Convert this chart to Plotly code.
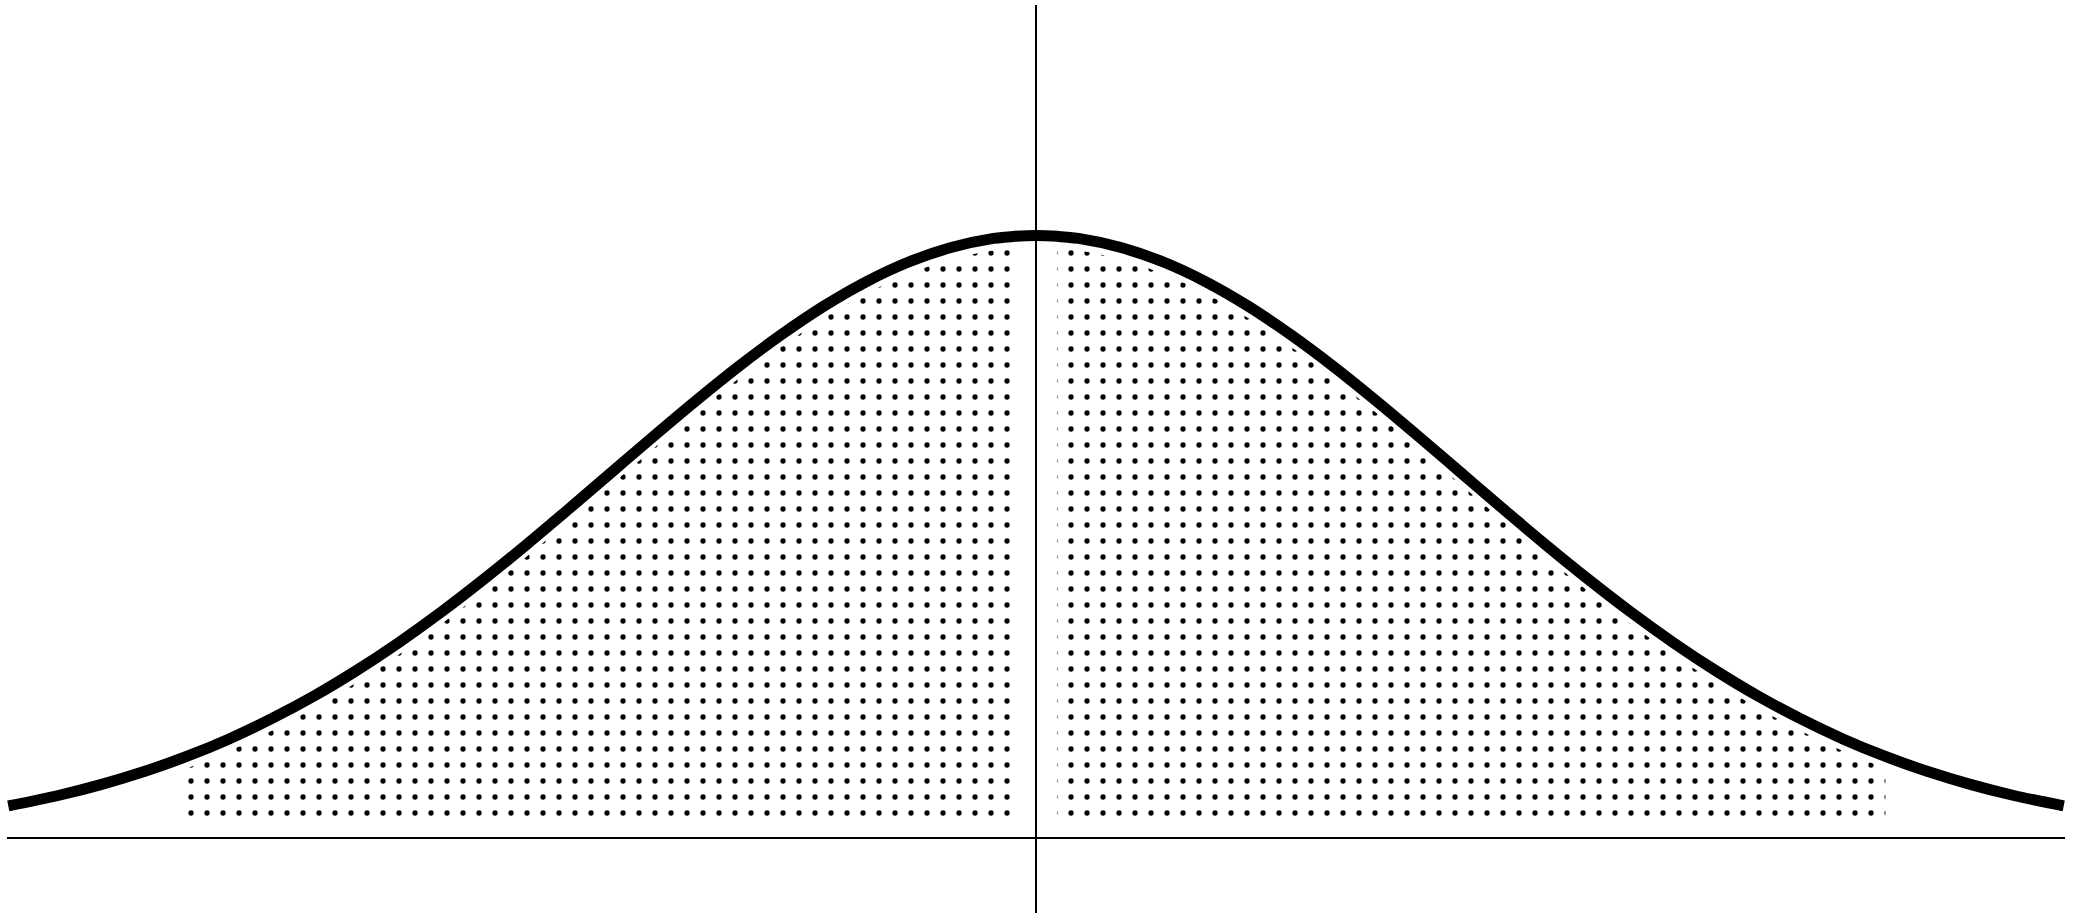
import plotly.graph_objects as go

# Bell curve: x positions and heights (density units)
curve_x = [-2.42, -2.3, -2.2, -2.1, -2.0, -1.9, -1.8, -1.7, -1.6, -1.5, -1.4, -1.3, -1.2, -1.1,
           -1.0, -0.9, -0.8, -0.7, -0.6, -0.5, -0.4, -0.3, -0.2, -0.1, -0.05,
           0.0, 0.05, 0.1, 0.2, 0.3, 0.4, 0.5, 0.6, 0.7, 0.8, 0.9, 1.0, 1.1, 1.2, 1.3,
           1.4, 1.5, 1.6, 1.7, 1.8, 1.9, 2.0, 2.1, 2.2, 2.3, 2.42]
curve_y = [0.0212, 0.0283, 0.0355, 0.0440, 0.0540, 0.0656, 0.0790, 0.0940, 0.1109, 0.1295, 0.1497, 0.1714, 0.1942, 0.2179,
           0.2420, 0.2661, 0.2897, 0.3123, 0.3332, 0.3521, 0.3683, 0.3814, 0.3910, 0.3970, 0.3984,
           0.3989, 0.3984, 0.3970, 0.3910, 0.3814, 0.3683, 0.3521, 0.3332, 0.3123, 0.2897, 0.2661, 0.2420, 0.2179, 0.1942, 0.1714,
           0.1497, 0.1295, 0.1109, 0.0940, 0.0790, 0.0656, 0.0540, 0.0440, 0.0355, 0.0283, 0.0212]

# Shaded (dotted) regions, left and right of the centre line
left_region = (-2.0, -0.05)
right_region = (0.05, 2.0)
shade_floor = 0.012      # bottom of the dotted area
shade_gap = 0.008        # dotted area stops this far below the curve

fig = go.Figure()

pattern = dict(shape=".", fgcolor="black", fgopacity=1, bgcolor="rgba(0,0,0,0)", size=16, solidity=0.085, fillmode="overlay")

for lo, hi in (left_region, right_region):
    xs = [x for x in curve_x if lo - 1e-9 <= x <= hi + 1e-9]
    ys = [y - shade_gap for x, y in zip(curve_x, curve_y) if lo - 1e-9 <= x <= hi + 1e-9]
    fig.add_trace(go.Scatter(x=xs, y=[shade_floor] * len(xs), mode="lines",
                             line=dict(width=0, color="rgba(0,0,0,0)"), hoverinfo="skip", showlegend=False))
    fig.add_trace(go.Scatter(x=xs, y=ys, mode="lines", fill="tonexty",
                             fillcolor="rgba(0,0,0,0)", fillpattern=pattern,
                             line=dict(width=0, color="rgba(0,0,0,0)", shape="spline"),
                             hoverinfo="skip", showlegend=False))

fig.add_trace(go.Scatter(x=curve_x, y=curve_y, mode="lines",
                         line=dict(color="black", width=11, shape="spline"),
                         showlegend=False))

fig.update_layout(
    width=2078, height=913,
    margin=dict(l=7, r=13, t=5, b=0),
    paper_bgcolor="white", plot_bgcolor="white",
    xaxis=dict(range=[-2.423, 2.423], showgrid=False, showticklabels=False, ticks="",
               zeroline=True, zerolinecolor="black", zerolinewidth=2, showline=False),
    yaxis=dict(range=[-0.04966, 0.55157], showgrid=False, showticklabels=False, ticks="",
               zeroline=True, zerolinecolor="black", zerolinewidth=2, showline=False),
)

fig.write_html("out.html", config={"displayModeBar": False},
               post_script="document.body.style.margin='0';document.body.style.overflow='hidden';")
